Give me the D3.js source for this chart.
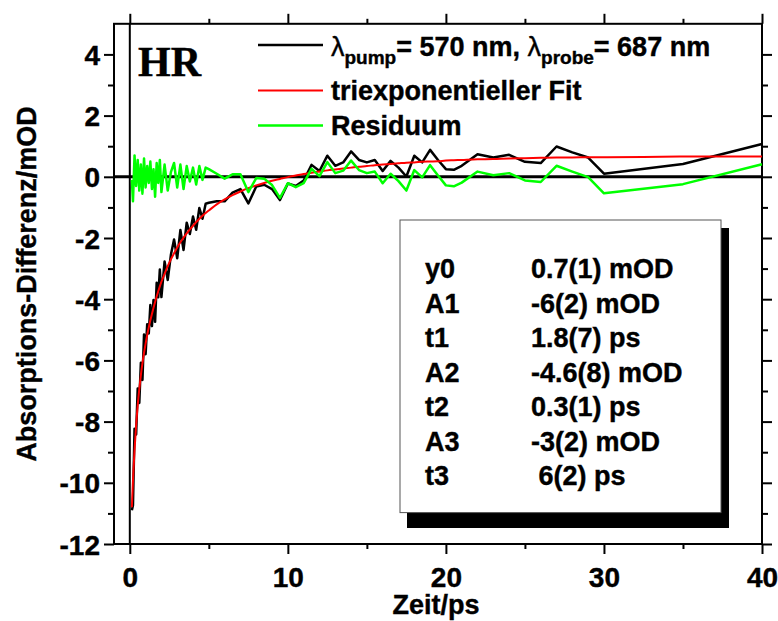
<!DOCTYPE html>
<html>
<head>
<meta charset="utf-8">
<script src="https://cdn.jsdelivr.net/npm/d3@7"></script>
<style>
  body { margin: 0; background: #fff; }
  svg text { font-family: "Liberation Sans", Arial, sans-serif; font-weight: bold; stroke: #000; stroke-width: 0.4px; }
</style>
</head>
<body>
<svg id="chart" width="778" height="621"></svg>
<script>
// delay times (ps)
let times = [0.13, 0.2, 0.3, 0.4, 0.5, 0.6, 0.7, 0.8, 0.9, 1.0, 1.1, 1.2, 1.3, 1.4, 1.5, 1.6, 1.7, 1.8, 1.9, 2.0,
    2.2, 2.4, 2.6, 2.8, 3.0, 3.2, 3.4, 3.6, 3.8, 4.0, 4.2, 4.4, 4.6, 4.8, 5.0,
    5.5, 6.0, 6.5, 7.0, 7.5, 8.0, 8.5, 9.0, 9.5, 10.0, 10.5, 11.0, 11.5, 12.0, 12.5, 13.0, 13.5, 14.0, 14.5,
    15.0, 15.5, 16.0, 16.5, 17.0, 17.5, 18.0, 18.5, 19.0, 19.5, 20.0, 20.5, 21.0,
    22, 23, 24, 25, 26, 27, 28, 29, 30, 35, 40]

// measured absorption difference (mOD)
let signal = [-10.90, -10.73, -8.23, -8.42, -6.92, -7.39, -6.08, -6.64, -5.15, -5.80, -4.82, -5.12, -4.19, -4.88, -4.03, -4.74, -3.46, -3.94, -3.03, -3.93,
    -2.77, -3.37, -2.55, -2.05, -2.66, -1.74, -2.39, -1.50, -1.87, -1.30, -1.73, -1.02, -1.37, -0.88, -0.85,
    -0.80, -0.80, -0.52, -0.40, -0.87, -0.32, -0.26, -0.40, -0.76, -0.22, -0.30, -0.12, 0.39, 0.19, 0.69, 0.36, 0.47, 0.83, 0.55,
    0.47, 0.55, 0.19, 0.52, 0.30, 0.01, 0.69, 0.47, 0.88, 0.55, 0.25, 0.23, 0.36,
    0.74, 0.63, 0.72, 0.49, 0.45, 0.99, 0.80, 0.63, 0.10, 0.42, 1.07]

// triexponential fit curve (mOD)
let fit = [-10.80, -9.93, -8.93, -8.12, -7.47, -6.94, -6.48, -6.09, -5.75, -5.45, -5.17, -4.92, -4.69, -4.48, -4.28, -4.09, -3.91, -3.74, -3.58, -3.43,
    -3.17, -2.92, -2.70, -2.50, -2.31, -2.14, -1.99, -1.85, -1.72, -1.60, -1.48, -1.37, -1.27, -1.18, -1.10,
    -0.90, -0.74, -0.60, -0.48, -0.37, -0.28, -0.20, -0.13, -0.07, -0.01, 0.04, 0.09, 0.13, 0.17, 0.21, 0.24, 0.27, 0.30, 0.33,
    0.35, 0.38, 0.40, 0.42, 0.44, 0.46, 0.47, 0.49, 0.50, 0.51, 0.53, 0.54, 0.55,
    0.57, 0.58, 0.60, 0.61, 0.62, 0.63, 0.63, 0.64, 0.64, 0.66, 0.66]

// residual (mOD)
let residual = [-0.10, -0.80, 0.70, -0.30, 0.55, -0.45, 0.40, -0.55, 0.60, -0.35, 0.35, -0.20, 0.50, -0.40, 0.25, -0.65, 0.45, -0.20, 0.55, -0.50,
    0.40, -0.45, 0.15, 0.45, -0.35, 0.40, -0.40, 0.35, -0.15, 0.30, -0.25, 0.35, -0.10, 0.30, 0.25,
    0.10, -0.06, 0.08, 0.08, -0.50, -0.04, -0.06, -0.27, -0.69, -0.21, -0.34, -0.21, 0.26, 0.02, 0.48, 0.12, 0.20, 0.53, 0.22,
    0.12, 0.17, -0.21, 0.10, -0.14, -0.45, 0.22, -0.02, 0.38, 0.04, -0.28, -0.31, -0.19,
    0.17, 0.05, 0.12, -0.12, -0.17, 0.36, 0.17, -0.01, -0.54, -0.24, 0.41]

let xMajor = [0, 10, 20, 30, 40]
let xMinor = [5, 15, 25, 35]
let yMajor = [-12, -10, -8, -6, -4, -2, 0, 2, 4]
let yMinor = [-11, -9, -7, -5, -3, -1, 1, 3]

let paramNames = ["y0", "A1", "t1", "A2", "t2", "A3", "t3"]
let paramValues = ["0.7(1) mOD", "-6(2) mOD", "1.8(7) ps", "-4.6(8) mOD", "0.3(1) ps", "-3(2) mOD", " 6(2) ps"]

let legendItems = [
    { color: "#000000", width: 2.5 },
    { color: "#ff0000", width: 2, label: "triexponentieller Fit" },
    { color: "#00ff00", width: 2.5, label: "Residuum" }
]

const svg = d3.select("#chart")
const mLeft = 114, mRight = 762, mTop = 23.8, mBottom = 544

let x = d3.scaleLinear().domain([-1, 40]).range([mLeft, mRight])
let y = d3.scaleLinear().domain([-12, 5]).range([mBottom, mTop])

const fmt = d => String(d)

// axes: major labelled, minor short, mirrored on top/right
const drawAxis = (axisFn, scale, ticks, size, labels, transform) => {
    const g = svg.append("g").attr("transform", transform)
        .call(axisFn(scale).tickValues(ticks).tickSize(size).tickPadding(4)
            .tickFormat(labels ? fmt : ""))
    g.select(".domain").remove()
    g.selectAll(".tick line").attr("stroke", "#000").attr("stroke-width", 2)
    g.selectAll(".tick text").attr("fill", "#000").style("font-size", "28px")
    return g
}

drawAxis(d3.axisBottom, x, xMajor, 10, true, `translate(0,${mBottom})`)
    .selectAll(".tick text")
    .attr("y", 43).attr("dy", null)
drawAxis(d3.axisBottom, x, xMinor, 5, false, `translate(0,${mBottom})`)
drawAxis(d3.axisTop, x, xMajor, 10, false, `translate(0,${mTop})`)
drawAxis(d3.axisTop, x, xMinor, 5, false, `translate(0,${mTop})`)
drawAxis(d3.axisLeft, y, yMajor, 10, true, `translate(${mLeft},0)`)
    .selectAll(".tick text").attr("dy", "0.36em")
drawAxis(d3.axisLeft, y, yMinor, 6, false, `translate(${mLeft},0)`)
drawAxis(d3.axisRight, y, yMajor, 10, false, `translate(${mRight},0)`)
drawAxis(d3.axisRight, y, yMinor, 6, false, `translate(${mRight},0)`)

// frame
svg.append("rect")
    .attr("x", mLeft).attr("y", mTop)
    .attr("width", mRight - mLeft).attr("height", mBottom - mTop)
    .attr("fill", "none").attr("stroke", "#000").attr("stroke-width", 2)

// zero lines
svg.append("line")
    .attr("x1", x(0)).attr("x2", x(0)).attr("y1", mTop).attr("y2", mBottom)
    .attr("stroke", "#000").attr("stroke-width", 2)
svg.append("line")
    .attr("x1", mLeft).attr("x2", mRight).attr("y1", y(0)).attr("y2", y(0))
    .attr("stroke", "#000").attr("stroke-width", 3)

// axis titles
svg.append("text")
    .attr("x", 436).attr("y", 614)
    .attr("text-anchor", "middle")
    .style("font-size", "27px")
    .text("Zeit/ps")
svg.append("text")
    .attr("transform", `translate(36,${(mTop + mBottom) / 2}) rotate(-90)`)
    .attr("text-anchor", "middle")
    .style("font-size", "27px")
    .text("Absorptions-Differenz/mOD")

// series
const line = vals => d3.line()
    .x((d, i) => x(times[i]))
    .y(d => y(d))(vals)

svg.append("path").attr("d", line(signal))
    .attr("fill", "none").attr("stroke", "#000").attr("stroke-width", 2.5).attr("stroke-linejoin", "round")
svg.append("path").attr("d", d3.line().curve(d3.curveMonotoneX).x((d, i) => x(times[i])).y(d => y(d))(fit))
    .attr("fill", "none").attr("stroke", "#ff0000").attr("stroke-width", 2)
svg.append("path").attr("d", line(residual))
    .attr("fill", "none").attr("stroke", "#00ff00").attr("stroke-width", 2.5).attr("stroke-linejoin", "round")

// label
svg.append("text")
    .attr("x", 138).attr("y", 76)
    .style("font-family", "'Liberation Serif', 'Times New Roman', serif")
    .style("font-size", "42px")
    .text("HR")

// legend
let legendY = [45, 90.5, 125.5]
legendItems.forEach((item, i) => {
    svg.append("line")
        .attr("x1", 258).attr("x2", 323)
        .attr("y1", legendY[i]).attr("y2", legendY[i])
        .attr("stroke", item.color).attr("stroke-width", item.width)
})
let l1 = svg.append("text").attr("x", 331).attr("y", 56).style("font-size", "27px")
l1.append("tspan").style("font-weight", "normal").text("λ")
l1.append("tspan").attr("dy", 8).style("font-size", "19px").text("pump")
l1.append("tspan").attr("dy", -8).text("= 570 nm, ")
l1.append("tspan").style("font-weight", "normal").text("λ")
l1.append("tspan").attr("dy", 8).style("font-size", "19px").text("probe")
l1.append("tspan").attr("dy", -8).text("= 687 nm")

svg.append("text").attr("x", 331).attr("y", 100).style("font-size", "27px").text(legendItems[1].label)
svg.append("text").attr("x", 331).attr("y", 135).style("font-size", "27px").text(legendItems[2].label)

// parameter box with shadow
svg.append("rect").attr("x", 407).attr("y", 228).attr("width", 322).attr("height", 300).attr("fill", "#000")
svg.append("rect").attr("x", 400).attr("y", 220).attr("width", 321).attr("height", 292.6)
    .attr("fill", "#fff").attr("stroke", "#555").attr("stroke-width", 1)

paramNames.forEach((name, i) => {
    const cy = 268.5 + i * 34.5
    svg.append("text").attr("x", 425).attr("y", cy).attr("dy", "0.36em").style("font-size", "27px").text(name)
    svg.append("text").attr("x", 531).attr("y", cy).attr("dy", "0.36em").style("font-size", "27px")
        .style("white-space", "pre").text(paramValues[i])
})
</script>
</body>
</html>
